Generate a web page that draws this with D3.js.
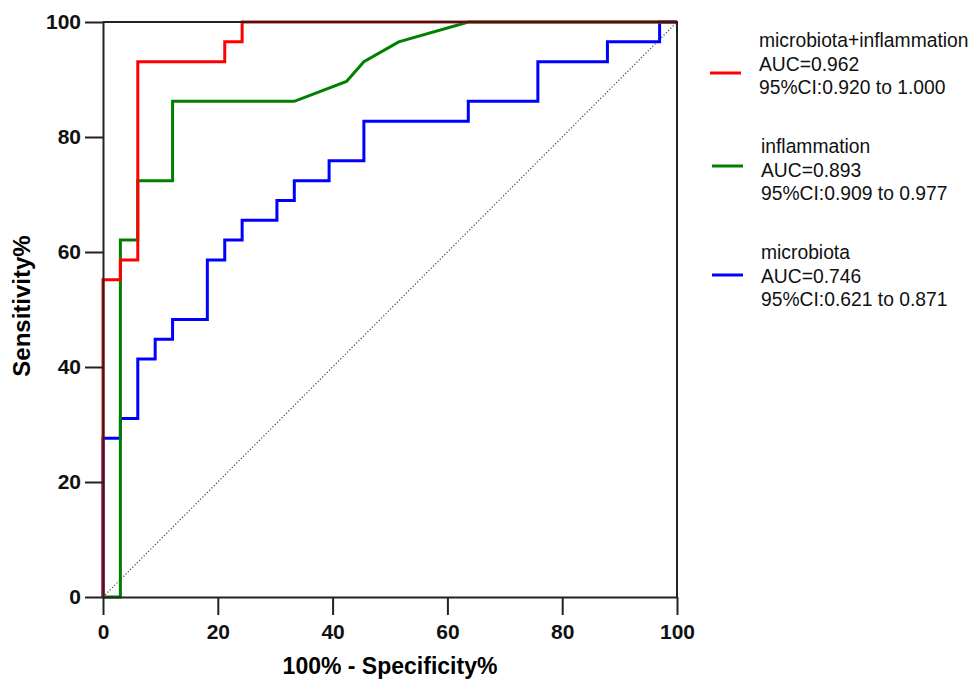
<!DOCTYPE html>
<html>
<head>
<meta charset="utf-8">
<script src="https://cdn.jsdelivr.net/npm/d3@7"></script>
<style>
  body { margin: 0; background: #fff; }
  svg { display: block; font-family: Arial, "Liberation Sans", sans-serif; }
  .axis path, .axis line { stroke: #222; stroke-width: 2; }
  .axis text { font-size: 21px; font-weight: bold; fill: #111; }
</style>
</head>
<body>
<svg id="chart"></svg>
<script>
// 1 - specificity (%) and sensitivity (%)
var comboX = [0, 0, 3.03, 3.03, 6.06, 6.06, 21.21, 21.21, 24.24, 24.24, 100];
var comboY = [0, 55.17, 55.17, 58.62, 58.62, 93.10, 93.10, 96.55, 96.55, 100, 100];

var inflamX = [0, 3.03, 3.03, 6.06, 6.06, 12.12, 12.12, 33.33, 42.42, 45.45, 51.52, 63.64, 100];
var inflamY = [0, 0, 62.07, 62.07, 72.41, 72.41, 86.21, 86.21, 89.66, 93.10, 96.55, 100, 100];

var microX = [0, 0, 3.03, 3.03, 6.06, 6.06, 9.09, 9.09, 12.12, 12.12, 18.18, 18.18, 21.21, 21.21,
  24.24, 24.24, 30.30, 30.30, 33.33, 33.33, 39.39, 39.39, 45.45, 45.45, 63.64, 63.64,
  75.76, 75.76, 87.88, 87.88, 96.97, 96.97, 100];
var microY = [0, 27.59, 27.59, 31.03, 31.03, 41.38, 41.38, 44.83, 44.83, 48.28, 48.28, 58.62, 58.62, 62.07,
  62.07, 65.52, 65.52, 68.97, 68.97, 72.41, 72.41, 75.86, 75.86, 82.76, 82.76, 86.21,
  86.21, 93.10, 93.10, 96.55, 96.55, 100, 100];

var seriesNames = ["microbiota+inflammation", "inflammation", "microbiota"];
var seriesAUC = ["AUC=0.962", "AUC=0.893", "AUC=0.746"];
var seriesCI = ["95%CI:0.920 to 1.000", "95%CI:0.909 to 0.977", "95%CI:0.621 to 0.871"];
var seriesColors = ["#ff0000", "#008000", "#0000ff"];
var tickValues = [0, 20, 40, 60, 80, 100];

var width = 970, height = 679;
var svg = d3.select("#chart").attr("width", width).attr("height", height);

var x = d3.scaleLinear().domain([0, 100]).range([103, 677]);
var y = d3.scaleLinear().domain([0, 100]).range([597, 22]);

// reference diagonal
svg.append("line")
  .attr("x1", x(0)).attr("y1", y(0))
  .attr("x2", x(100)).attr("y2", y(100))
  .attr("stroke", "#444")
  .attr("stroke-width", 1.2)
  .attr("stroke-dasharray", "1.2,2");

var line = d3.line()
  .x(function(d) { return x(d[0]); })
  .y(function(d) { return y(d[1]); });

var curves = [
  { xs: microX, ys: microY, color: seriesColors[2] },
  { xs: inflamX, ys: inflamY, color: seriesColors[1] },
  { xs: comboX, ys: comboY, color: seriesColors[0] }
];

curves.forEach(function(c) {
  var pts = d3.zip(c.xs, c.ys);
  svg.append("path")
    .datum(pts)
    .attr("d", line)
    .attr("fill", "none")
    .attr("stroke", c.color)
    .attr("stroke-width", 3)
    .attr("stroke-linejoin", "miter");
});

// frame top & right
svg.append("path")
  .attr("d", "M" + x(0) + "," + y(100) + "H" + x(100) + "V" + y(0))
  .attr("fill", "none")
  .attr("stroke", "#222")
  .attr("stroke-width", 2);

svg.append("g")
  .attr("class", "axis")
  .attr("transform", "translate(0," + y(0) + ")")
  .call(d3.axisBottom(x).tickValues(tickValues).tickSize(18).tickPadding(9).tickSizeOuter(0));

svg.append("g")
  .attr("class", "axis")
  .attr("transform", "translate(" + x(0) + ",0)")
  .call(d3.axisLeft(y).tickValues(tickValues).tickSize(18).tickPadding(4).tickSizeOuter(0));

svg.append("text")
  .attr("x", 390).attr("y", 674)
  .attr("text-anchor", "middle")
  .attr("font-size", 23).attr("font-weight", "bold")
  .text("100% - Specificity%");

svg.append("text")
  .attr("transform", "translate(30,306) rotate(-90)")
  .attr("text-anchor", "middle")
  .attr("font-size", 24).attr("font-weight", "bold")
  .text("Sensitivity%");

// legend
var legendLineY = [73, 166, 275];
var legendTextY = [47, 153, 259];
var legendTextX = [759, 761, 761];
var legendLineX = [710, 712, 712];

seriesNames.forEach(function(name, i) {
  svg.append("line")
    .attr("x1", legendLineX[i]).attr("x2", legendLineX[i] + 31)
    .attr("y1", legendLineY[i]).attr("y2", legendLineY[i])
    .attr("stroke", seriesColors[i])
    .attr("stroke-width", 3);
  var t = svg.append("text")
    .attr("x", legendTextX[i]).attr("y", legendTextY[i])
    .attr("font-size", 19.3)
    .attr("fill", "#111");
  [name, seriesAUC[i], seriesCI[i]].forEach(function(s, j) {
    t.append("tspan")
      .attr("x", legendTextX[i])
      .attr("dy", j === 0 ? 0 : 23.5)
      .text(s);
  });
});
</script>
</body>
</html>
